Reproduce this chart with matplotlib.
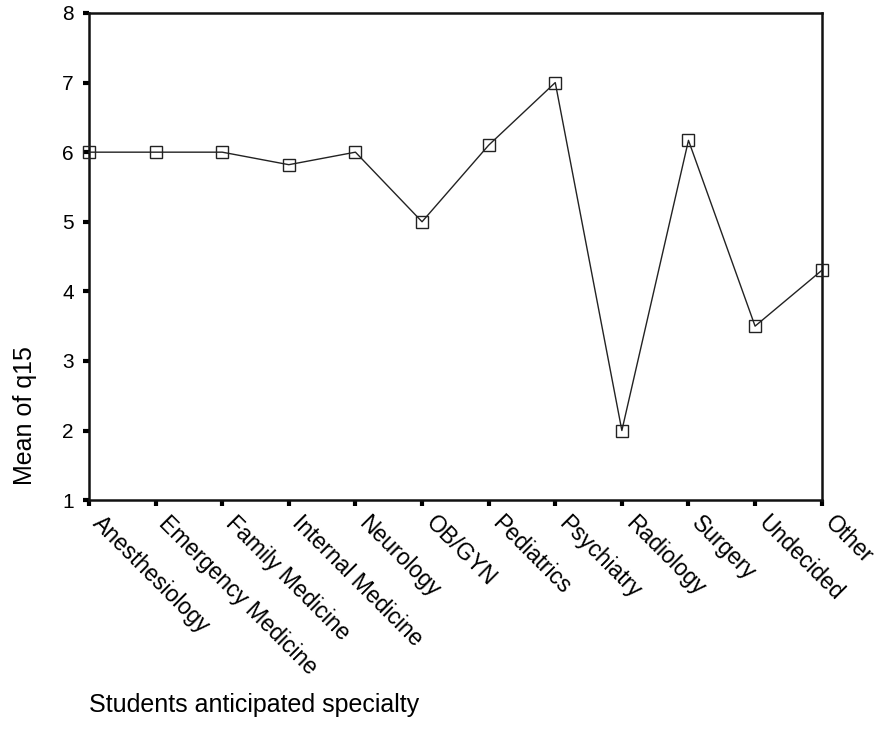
import matplotlib.pyplot as plt
import matplotlib.transforms as mtransforms

specialties = ['Anesthesiology', 'Emergency Medicine', 'Family Medicine', 'Internal Medicine',
               'Neurology', 'OB/GYN', 'Pediatrics', 'Psychiatry', 'Radiology', 'Surgery',
               'Undecided', 'Other']
mean_q15 = [6.0, 6.0, 6.0, 5.82, 6.0, 5.0, 6.1, 7.0, 2.0, 6.17, 3.5, 4.3]
yticks = [1, 2, 3, 4, 5, 6, 7, 8]

plt.rcParams['font.family'] = ['Liberation Sans', 'DejaVu Sans']

fig = plt.figure(figsize=(8.76, 7.42), dpi=100)
ax = fig.add_axes([0.1016, 0.326, 0.8364, 0.6565])

x = list(range(len(specialties)))
ax.plot(x, mean_q15, '-', color='#222222', lw=1.0,
        marker='s', markersize=9, markerfacecolor='none',
        markeredgecolor='#222222', markeredgewidth=1.0, clip_on=False, zorder=3)

ax.set_xlim(0, len(specialties) - 1)
ax.set_ylim(1, 8)
ax.set_yticks(yticks)
ax.set_xticks(x)
ax.set_xticklabels(specialties, rotation=-45, ha='left', va='center',
                   rotation_mode='anchor', fontsize=16.5)
ax.tick_params(axis='y', labelsize=15, length=4, width=3, direction='out', pad=7)
ax.tick_params(axis='x', length=4, width=3, direction='out', pad=10)

# nudge the slanted labels a little to the right
shift = mtransforms.ScaledTranslation(5 / 72, 0, fig.dpi_scale_trans)
for lbl in ax.get_xticklabels():
    lbl.set_transform(lbl.get_transform() + shift)

for s in ax.spines.values():
    s.set_linewidth(1.8)
    s.set_color('#111111')

fig.text(0.028, 0.44, 'Mean of q15', rotation=90, ha='center', va='center', fontsize=18)
fig.text(0.102, 0.05, 'Students anticipated specialty', ha='left', va='center', fontsize=18)

fig.savefig('out.png', dpi=100)
